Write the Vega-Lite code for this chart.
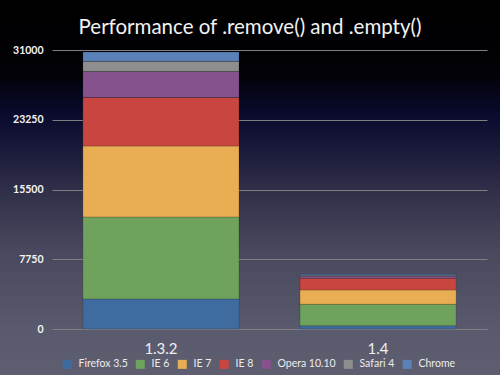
{
  "$schema": "https://vega.github.io/schema/vega-lite/v6.json",
  "width": 500,
  "height": 375,
  "autosize": "none",
  "padding": 0,
  "background": "#000000",
  "title": {
    "text": "Performance of .remove() and .empty()",
    "anchor": "middle",
    "frame": "group",
    "offset": -33,
    "dy": 21,
    "baseline": "alphabetic",
    "font": "Lato",
    "fontSize": 20.5,
    "fontWeight": "normal",
    "color": "#f2f2f2"
  },
  "config": {
    "view": {
      "stroke": null,
      "fill": {
        "gradient": "linear",
        "x1": 0, "y1": 0, "x2": 0, "y2": 1,
        "stops": [
          {"offset": 0, "color": "#000000"},
          {"offset": 0.2, "color": "#020208"},
          {"offset": 0.3, "color": "#090a2c"},
          {"offset": 0.4, "color": "#1a1a3a"},
          {"offset": 0.5, "color": "#2e2e48"},
          {"offset": 0.67, "color": "#48485e"},
          {"offset": 0.88, "color": "#5a5a6e"},
          {"offset": 1, "color": "#5e5e70"}
        ]
      }
    },
    "font": "Lato"
  },
  "data": {
    "values": [
      {"version": "1.3.2", "browser": "Firefox 3.5", "k": 1, "time": 3345},
      {"version": "1.3.2", "browser": "IE 6", "k": 2, "time": 9110},
      {"version": "1.3.2", "browser": "IE 7", "k": 3, "time": 7870},
      {"version": "1.3.2", "browser": "IE 8", "k": 4, "time": 5400},
      {"version": "1.3.2", "browser": "Opera 10.10", "k": 5, "time": 2900},
      {"version": "1.3.2", "browser": "Safari 4", "k": 6, "time": 1115},
      {"version": "1.3.2", "browser": "Chrome", "k": 7, "time": 1040},
      {"version": "1.4", "browser": "Firefox 3.5", "k": 1, "time": 370},
      {"version": "1.4", "browser": "IE 6", "k": 2, "time": 2380},
      {"version": "1.4", "browser": "IE 7", "k": 3, "time": 1590},
      {"version": "1.4", "browser": "IE 8", "k": 4, "time": 1300},
      {"version": "1.4", "browser": "Opera 10.10", "k": 5, "time": 220},
      {"version": "1.4", "browser": "Safari 4", "k": 6, "time": 110},
      {"version": "1.4", "browser": "Chrome", "k": 7, "time": 110}
    ]
  },
  "mark": {"type": "bar", "stroke": "#000000", "strokeOpacity": 0.25, "strokeWidth": 0.7},
  "encoding": {
    "x": {
      "field": "version",
      "type": "nominal",
      "sort": ["1.3.2", "1.4"],
      "scale": {"paddingInner": 0.281, "paddingOuter": 0.292, "align": 0.654},
      "axis": {
        "title": null,
        "orient": "bottom",
        "offset": -27,
        "domain": false,
        "ticks": false,
        "grid": false,
        "labelAngle": 0,
        "labelPadding": 0,
        "labelBaseline": "middle",
        "labelFont": "Lato",
        "labelFontSize": 15,
        "labelColor": "#f0f0f0"
      }
    },
    "y": {
      "field": "time",
      "type": "quantitative",
      "aggregate": "sum",
      "stack": "zero",
      "scale": {"domain": [-5111, 36556], "nice": false, "zero": false},
      "axis": {
        "title": null,
        "orient": "left",
        "offset": -52,
        "values": [0, 7750, 15500, 23250, 31000],
        "format": "d",
        "domain": false,
        "grid": false,
        "ticks": true,
        "tickSize": -435,
        "tickColor": "#808080",
        "tickWidth": 1,
        "labelPadding": 444,
        "labelFont": "Lato",
        "labelFontSize": 10.5,
        "labelFontWeight": "bold",
        "labelColor": "#f4f4f4",
        "labelAlign": "right",
        "labelBaseline": "middle"
      }
    },
    "color": {
      "field": "browser",
      "type": "nominal",
      "scale": {
        "domain": ["Firefox 3.5", "IE 6", "IE 7", "IE 8", "Opera 10.10", "Safari 4", "Chrome"],
        "range": ["#3f6ca0", "#6fa25d", "#e9ad54", "#c8463f", "#86528e", "#8e8e8e", "#5a82b8"]
      },
      "legend": {
        "title": null,
        "orient": "none",
        "direction": "horizontal",
        "legendX": 62,
        "legendY": 359,
        "padding": 0,
        "symbolType": "square",
        "symbolSize": 81,
        "symbolStrokeWidth": 0,
        "labelOffset": 6,
        "columnPadding": 7,
        "labelFont": "Lato",
        "labelFontSize": 10.5,
        "labelColor": "#ececec"
      }
    },
    "order": {"field": "k", "type": "quantitative"}
  }
}
